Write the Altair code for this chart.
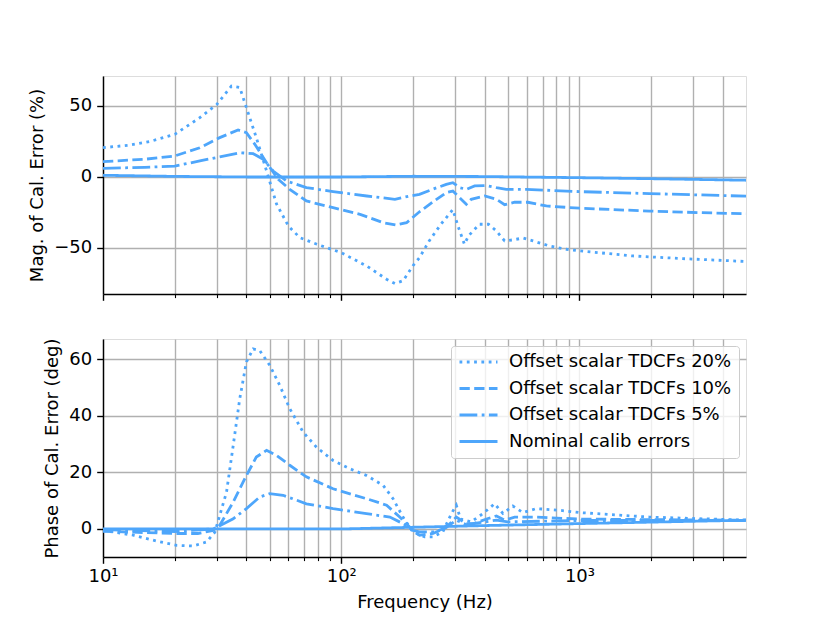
import altair as alt
import pandas as pd

SERIES = ["Offset scalar TDCFs 20%", "Offset scalar TDCFs 10%",
          "Offset scalar TDCFs 5%", "Nominal calib errors"]
COLOR = "#4ea6fb"
DASHES = [[2.8, 4.5], [10.3, 4.4], [17.8, 4.4, 2.8, 4.4], [1, 0]]

# ---- magnitude (%) ----
mag20_f = [10, 13, 16, 20, 25.5, 30, 34.6, 37.5, 40, 44, 48.6, 53.5, 60, 67, 79, 100, 128, 155, 168,
           182, 200, 213, 234, 262, 294, 309, 329, 342, 380, 415, 448, 485, 525, 579, 638, 748, 880,
           1000, 1673, 2713, 5000]
mag20_v = [20.6, 22.5, 25.3, 30, 41.8, 51, 64, 63, 48.8, 27.7, 4.2, -19, -34.5, -42.7, -47.4, -53.3,
           -62.7, -72, -75, -73, -62.5, -56.8, -45, -33.3, -23, -34.5, -47.4, -41.5, -33.3, -33.3, -38,
           -45, -44.3, -43, -45, -48.6, -50.9, -52, -55.6, -57.5, -59.5]

mag10_f = [10, 15, 20, 25.5, 30.9, 36.9, 40, 43.4, 48.6, 54.4, 60.8, 71.4, 92.4, 120, 150, 170, 188,
           213, 243, 276, 294, 314, 335, 351, 400, 448, 485, 534, 607, 726, 1000, 1965, 3184, 5000]
mag10_v = [10.8, 12.5, 14.8, 20.6, 27.7, 33.1, 31.2, 23, 10, -1.6, -8.7, -16.9, -21.6, -26.3, -32.2,
           -33.8, -32.2, -24.5, -17.5, -11, -9.9, -14.6, -19.2, -15.7, -13.4, -15.7, -19.5, -17.8,
           -17.8, -20.4, -22, -24, -25.1, -25.9]

mag5_f = [10, 15, 20, 25.5, 30.9, 37.5, 42.7, 47, 51.8, 58.9, 71.4, 92.4, 128, 168, 194, 213, 243,
          276, 294, 314, 335, 363, 406, 448, 493, 597, 1000, 1965, 5000]
mag5_v = [6.1, 6.8, 7.7, 11.3, 14.1, 17.1, 16.4, 12.5, 4.2, -2.8, -7.5, -10.3, -13.4, -15.7, -13.4,
          -12.2, -8.5, -5.2, -4, -7.5, -8.7, -6.3, -6, -7.5, -8.7, -8.7, -10.3, -11.7, -13.5]

magN_f = [10, 20, 40, 100, 200, 400, 1000, 2000, 5000]
magN_v = [1.2, 0.4, 0, 0, 0.5, 0.3, -0.5, -1.2, -2.3]

# ---- phase (deg) ----
ph20_f = [10, 13.4, 17, 20.4, 23.9, 27.2, 29.5, 30.9, 33, 35.2, 37.5, 40, 42.7, 45.5, 50.1, 55.2,
          60.8, 69.2, 78.7, 92.4, 108.5, 127.6, 150, 165, 181.6, 200, 224, 243, 267, 290, 304, 317,
          351, 393, 440, 477, 525, 579, 659, 824, 1000, 1965, 5000]
ph20_v = [-0.5, -2.2, -4.4, -5.8, -6, -4.6, -1.1, 4.8, 13, 29.5, 46, 59, 63.6, 63, 57.8, 50.7, 42.5,
          34.2, 28.9, 24.2, 21.3, 18.9, 15.4, 10.7, 4.2, -1.1, -2.8, -2.8, -1, 5.4, 8.4, 3.5, 2.5,
          5.4, 8.9, 5.5, 8.1, 5.8, 7.2, 6.6, 5.8, 4.2, 3.1]

ph10_f = [10, 20, 25, 29, 30.9, 35.2, 40, 44, 48.6, 53.5, 60.8, 71.4, 92.4, 127.6, 155, 176, 200,
          213, 243, 276, 304, 335, 360, 410, 448, 485, 534, 650, 1000, 2000, 5000]
ph10_v = [-0.8, -1.6, -1.6, -0.5, 1.3, 9.5, 18.9, 25.4, 27.8, 26, 22.5, 18.4, 14.2, 10.7, 8.4, 4.2,
          -0.5, -2.2, -1.6, 0.6, 4.2, 1.9, 1.9, 3.6, 4.6, 3.1, 4.2, 4.2, 3.5, 3.3, 3.1]

ph5_f = [10, 20, 29, 35.2, 40, 45.5, 50.1, 57, 71.4, 92.4, 127.6, 160, 181.6, 200, 213, 250, 276,
         304, 335, 400, 448, 500, 1000, 5000]
ph5_v = [-0.2, -0.9, 0, 3.6, 7.2, 11.3, 12.5, 11.9, 8.9, 7.2, 5.4, 4.2, 1.9, -0.5, -1, -1, 0.6, 3.1,
         1.5, 2.5, 3.1, 2.5, 3, 3]

phN_f = [10, 30, 100, 200, 400, 1000, 5000]
phN_v = [0, 0, 0, 0.6, 1.2, 1.9, 3.1]

X_TICKS = [10, 20, 30, 40, 50, 60, 70, 80, 90, 100, 200, 300, 400, 500, 600, 700, 800, 900,
           1000, 2000, 3000, 4000]
MAG_TICKS = [-50, 0, 50]
PH_TICKS = [0, 20, 40, 60]


def frame(pairs):
    rows = []
    for name, (fs, vs) in zip(SERIES, pairs):
        for i, (f, v) in enumerate(zip(fs, vs)):
            rows.append({"series": name, "freq": f, "val": v, "idx": i})
    return pd.DataFrame(rows)


mag_df = frame([(mag20_f, mag20_v), (mag10_f, mag10_v), (mag5_f, mag5_v), (magN_f, magN_v)])
ph_df = frame([(ph20_f, ph20_v), (ph10_f, ph10_v), (ph5_f, ph5_v), (phN_f, phN_v)])

FONT = "DejaVu Sans"
FS = 18
major_test = "datum.value == 10 || datum.value == 100 || datum.value == 1000"
tick_size = {"condition": {"test": major_test, "value": 6.3}, "value": 3.6}
tick_width = {"condition": {"test": major_test, "value": 1.4}, "value": 1.1}
label_expr = ("datum.value == 10 ? '10¹' : datum.value == 100 ? '10²' : "
              "datum.value == 1000 ? '10³' : ''")

xscale = alt.Scale(type="log", domain=[10, 5000], nice=False)


def x_axis(show_labels):
    kw = dict(values=X_TICKS, grid=True, gridColor="#b0b0b0", gridWidth=1.4,
              tickSize=tick_size, tickWidth=tick_width, tickColor="black",
              domainColor="black", domainWidth=1.4, labelFont=FONT, labelFontSize=FS,
              labelColor="black", labelPadding=4, titleFont=FONT, titleFontSize=FS,
              titleFontWeight="normal", titleColor="black", titlePadding=8)
    if show_labels:
        return alt.Axis(title="Frequency (Hz)", labelExpr=label_expr, labelFlush=False,
                        labelOverlap=False, **kw)
    return alt.Axis(title=None, labels=False, **kw)


def y_axis(title, ticks):
    return alt.Axis(title=title, values=ticks, grid=True, gridColor="#b0b0b0", gridWidth=1.4,
                    tickSize=6.3, tickWidth=1.4, tickColor="black", domainColor="black",
                    domainWidth=1.4, labelFont=FONT, labelFontSize=FS, labelColor="black",
                    labelPadding=5, titleFont=FONT, titleFontSize=FS, titleFontWeight="normal",
                    titleColor="black", titlePadding=7)


dash_scale = alt.Scale(domain=SERIES, range=DASHES)

top = alt.Chart(mag_df).mark_line(color=COLOR, strokeWidth=2.8, strokeCap="butt",
                                  clip=True).encode(
    x=alt.X("freq:Q", scale=xscale, axis=x_axis(False)),
    y=alt.Y("val:Q", scale=alt.Scale(domain=[-82.4, 71.1], nice=False, zero=False),
            axis=y_axis("Mag. of Cal. Error (%)", MAG_TICKS)),
    strokeDash=alt.StrokeDash("series:N", scale=dash_scale, legend=None),
    order="idx:Q",
).properties(width=643, height=218)

bottom = alt.Chart(ph_df).mark_line(color=COLOR, strokeWidth=2.8, strokeCap="butt",
                                    clip=True).encode(
    x=alt.X("freq:Q", scale=xscale, axis=x_axis(True)),
    y=alt.Y("val:Q", scale=alt.Scale(domain=[-9.9, 67.1], nice=False, zero=False),
            axis=y_axis("Phase of Cal. Error (deg)", PH_TICKS)),
    strokeDash=alt.StrokeDash(
        "series:N", scale=dash_scale,
        legend=alt.Legend(title=None, orient="top-right", offset=7, symbolType="stroke",
                          symbolSize=1444, symbolStrokeWidth=2.8, symbolStrokeColor=COLOR,
                          clipHeight=18, labelFont=FONT, labelFontSize=FS, labelColor="black",
                          labelOffset=10, labelLimit=0, rowPadding=8.5, padding=7,
                          fillColor="rgba(255,255,255,0.8)", strokeColor="#cccccc",
                          cornerRadius=3)),
    order="idx:Q",
).properties(width=643, height=218)

chart = alt.vconcat(top, bottom, spacing=35).resolve_scale(
    strokeDash="independent").resolve_legend(strokeDash="independent").properties(
    padding={"left": 20, "top": 67, "right": 5, "bottom": 5}
).configure_view(stroke="black", strokeWidth=1.4).configure(background="white")

chart.save("out.html", embed_options={"renderer": "svg", "actions": False})
